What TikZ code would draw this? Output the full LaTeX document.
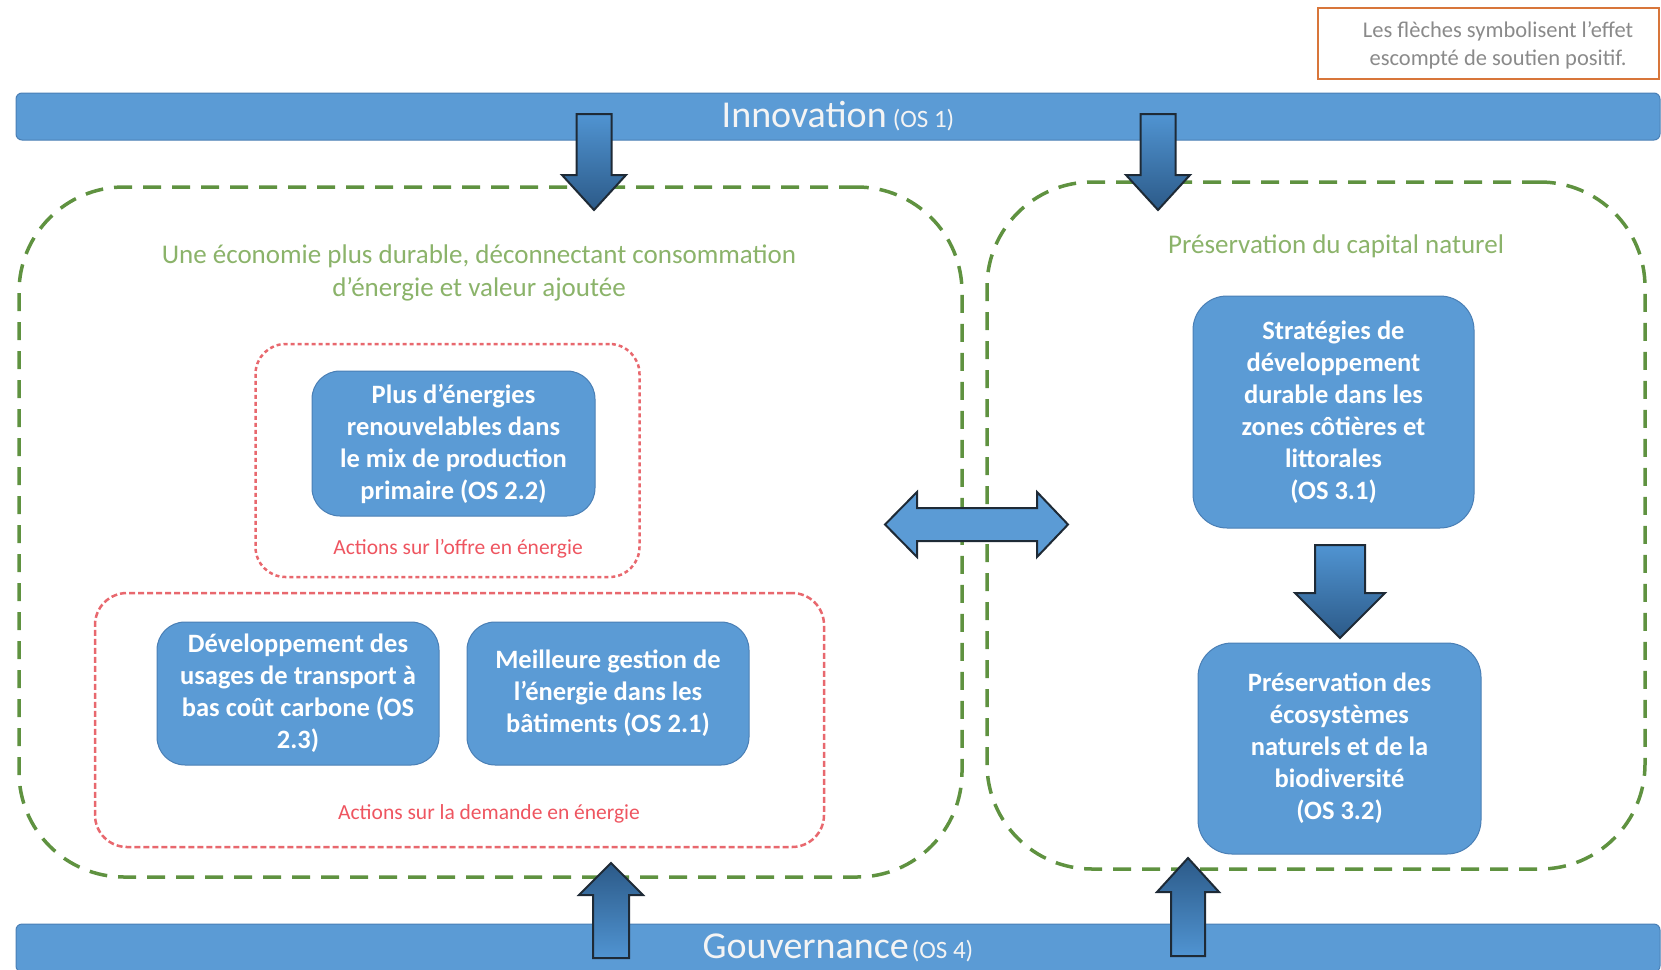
\documentclass[tikz,border=0pt]{standalone}
\usepackage{fontspec}
\setmainfont{Carlito}
\definecolor{boxblue}{HTML}{5B9BD5}
\definecolor{boxedge}{HTML}{4A7FB5}
\definecolor{regiongreen}{HTML}{5F9240}
\definecolor{titlegreen}{HTML}{8BB36A}
\definecolor{actred}{HTML}{EE5560}
\definecolor{dotred}{HTML}{E8686E}
\definecolor{legendorange}{HTML}{D8763A}
\definecolor{legendgray}{HTML}{8A8A8A}
\definecolor{arrowlight}{HTML}{5094D2}
\definecolor{arrowdark}{HTML}{2C5A88}
\definecolor{arrowline}{HTML}{1E2A36}
\definecolor{bannertext}{HTML}{F4F4F4}
\newcommand{\vblockarrow}[7]{%
  \shadedraw[blockarrow,#7] (#1-#5,-#2) -- (#1+#5,-#2) -- (#1+#5,-#3) -- (#1+#6,-#3)
    -- (#1,-#4) -- (#1-#6,-#3) -- (#1-#5,-#3) -- cycle;}
\begin{document}
\begin{tikzpicture}[x=1pt,y=1pt,
  region/.style={draw=regiongreen, line width=3.5pt, dash pattern=on 18pt off 11pt,
    rounded corners=105pt, inner sep=0pt},
  redboxa/.style={draw=dotred, line width=2.5pt, dash pattern=on 4pt off 3pt,
    rounded corners=30pt, inner sep=0pt},
  redboxb/.style={draw=dotred, line width=2.5pt, dash pattern=on 6pt off 3pt,
    rounded corners=32pt, inner sep=0pt},
  bluebox/.style={draw=boxedge, line width=1pt, fill=boxblue, rounded corners=28pt,
    text=white, align=center, inner sep=0pt,
    font=\fontsize{26.5}{32}\selectfont\bfseries},
  greentitle/.style={text=titlegreen, align=center, inner sep=0pt,
    font=\fontsize{27}{33}\selectfont},
  redlabel/.style={text=actred, inner sep=0pt, font=\fontsize{21.5}{24}\selectfont},
  banner/.style={draw=boxedge, line width=1pt, fill=boxblue, rounded corners=6pt,
    text=bannertext, inner sep=0pt},
  legendbox/.style={draw=legendorange, line width=2.5pt, inner sep=0pt},
  legendtext/.style={text=legendgray, align=center, inner sep=0pt,
    font=\fontsize{22.5}{27.5}\selectfont},
  blockarrow/.style={draw=arrowline, line width=2pt, line join=miter},
  dblarrow/.style={draw=arrowline, line width=2pt, fill=boxblue, line join=miter}
]
\useasboundingbox (0,0) rectangle (1661,-969);

% legend
\node[legendbox, minimum width=341, minimum height=71] (legend) at (1488.5,-43.5) {};
\node[legendtext] (legendtxt) at (1498,-45.5) {Les flèches symbolisent l’effet\\escompté de soutien positif.};

% regions
\node[region, minimum width=943, minimum height=690] (leftregion) at (490.5,-532) {};
\node[region, minimum width=658, minimum height=687] (rightregion) at (1316,-525.5) {};

\node[greentitle] (lefttitle) at (479,-272.5) {Une économie plus durable, déconnectant consommation\\d’énergie et valeur ajoutée};
\node[greentitle] (righttitle) at (1336,-246) {Préservation du capital naturel};

% red groups
\node[redboxa, minimum width=384, minimum height=233] (offre) at (447.5,-460.5) {};
\node[redboxb, minimum width=729, minimum height=254] (demande) at (459.5,-720) {};
\node[redlabel] (offrelbl) at (458,-549) {Actions sur l’offre en énergie};
\node[redlabel] (demandelbl) at (489,-814) {Actions sur la demande en énergie};

% blue boxes
\node[bluebox, minimum width=283, minimum height=145] (os22) at (453.5,-443.5)
  {Plus d’énergies\\renouvelables dans\\le mix de production\\primaire (OS 2.2)};
\node[bluebox, minimum width=282, minimum height=143] (os23) at (298,-693.5)
  {Développement des\\usages de transport à\\bas coût carbone (OS\\2.3)};
\node[bluebox, minimum width=282, minimum height=143] (os21) at (608,-693.5)
  {Meilleure gestion de\\l’énergie dans les\\bâtiments (OS 2.1)};
\node[bluebox, minimum width=281, minimum height=232, rounded corners=34pt] (os31) at (1333.5,-412)
  {Stratégies de\\développement\\durable dans les\\zones côtières et\\littorales\\(OS 3.1)};
\node[bluebox, minimum width=283, minimum height=211, rounded corners=34pt] (os32) at (1339.5,-748.5)
  {Préservation des\\écosystèmes\\naturels et de la\\biodiversité\\(OS 3.2)};

% banners
\node[banner, minimum width=1644, minimum height=47] (innov) at (838,-116.5)
  {{\fontsize{38}{40}\selectfont Innovation}\hspace{6pt}{\fontsize{25}{26}\selectfont (OS 1)}};
\node[banner, minimum width=1644, minimum height=48] (gouv) at (838,-948)
  {{\fontsize{38}{40}\selectfont Gouvernance}\hspace{3pt}{\fontsize{25}{26}\selectfont (OS 4)}};

% block arrows
\vblockarrow{594}{114}{175}{210}{17.5}{32}{top color=arrowlight, bottom color=arrowdark}
\vblockarrow{1158}{114}{175}{210}{17.5}{32}{top color=arrowlight, bottom color=arrowdark}
\vblockarrow{611}{958}{895}{863}{18}{32}{top color=arrowdark, bottom color=arrowlight}
\vblockarrow{1188}{956}{892}{858}{17}{31}{top color=arrowdark, bottom color=arrowlight}
\vblockarrow{1340}{545}{593}{638}{25}{45}{top color=arrowlight, bottom color=arrowdark}

% double arrow between regions
\draw[dblarrow] (885,-524.5) -- (917,-492) -- (917,-508) -- (1037,-508) -- (1037,-492)
  -- (1068,-524.5) -- (1037,-557) -- (1037,-541) -- (917,-541) -- (917,-557) -- cycle;
\end{tikzpicture}
\end{document}
